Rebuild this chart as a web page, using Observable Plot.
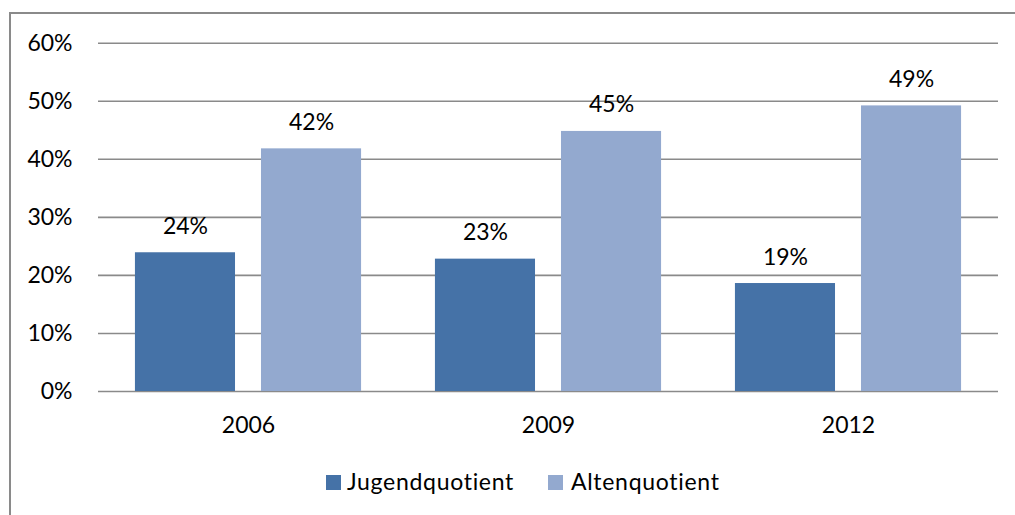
<!DOCTYPE html>
<html>
<head>
<meta charset="utf-8">
<script src="https://cdn.jsdelivr.net/npm/d3@7"></script>
<script src="https://cdn.jsdelivr.net/npm/@observablehq/plot@0.6"></script>
<style>
  html, body { margin: 0; padding: 0; background: #fff; }
  #wrap { position: relative; width: 1015px; height: 515px; overflow: hidden; font-family: Lato, "Open Sans", sans-serif; }
  #frame { position: absolute; left: 9px; top: 12px; width: 1100px; height: 600px; border-left: 2px solid #8a8a8a; border-top: 2px solid #8a8a8a; box-sizing: border-box; }
  #chart { position: absolute; left: 0; top: 0; }
  #legend { position: absolute; left: 326px; top: 467px; display: flex; gap: 34px; font-size: 23px; color: #000; letter-spacing: 0.7px; }
  .item { display: flex; align-items: center; }
  .sw { width: 15px; height: 15px; margin-right: 6px; margin-top: 2px; }
  .item + .item .sw { margin-right: 8px; }
</style>
</head>
<body>
<div id="wrap">
  <div id="frame"></div>
  <div id="chart"></div>
  <div id="legend"></div>
</div>
<script>
const years = ["2006", "2009", "2012"];
const seriesNames = ["Jugendquotient", "Altenquotient"];
const jugend = [0.239, 0.228, 0.186];
const alten = [0.418, 0.448, 0.492];
const labelsJugend = ["24%", "23%", "19%"];
const labelsAlten = ["42%", "45%", "49%"];
const yTicks = [0, 0.1, 0.2, 0.3, 0.4, 0.5, 0.6];
const colors = ["#4572a7", "#93a9cf"];

const data = [];
years.forEach((yr, i) => {
  data.push({year: yr, series: seriesNames[0], value: jugend[i], label: labelsJugend[i]});
  data.push({year: yr, series: seriesNames[1], value: alten[i], label: labelsAlten[i]});
});

const chart = Plot.plot({
  width: 1015,
  height: 440,
  marginLeft: 98.3,
  marginRight: 16.7,
  marginTop: 42.7,
  marginBottom: 49,
  style: { fontFamily: "Lato, 'Open Sans', sans-serif", fontSize: "23px", color: "#000", background: "transparent" },
  fx: { domain: years, padding: 0, label: null, axis: "bottom", tickSize: 0, tickPadding: 25 },
  x: { domain: seriesNames, paddingInner: 0.206, paddingOuter: 0.293, axis: null, round: false },
  y: { domain: [0, 0.6], ticks: yTicks, tickFormat: d => Math.round(d * 100) + "%", label: null, tickSize: 0, tickPadding: 26 },
  color: { domain: seriesNames, range: colors },
  marks: [
    Plot.gridY(yTicks, { stroke: "#8a8a8a", strokeOpacity: 1, strokeWidth: 1.6 }),
    Plot.barY(data, { fx: "year", x: "series", y: "value", fill: "series" }),
    Plot.text(data, { fx: "year", x: "series", y: "value", text: "label", lineAnchor: "bottom", dy: -19, fill: "#000", fontSize: 23 })
  ]
});
document.getElementById("chart").appendChild(chart);

const legend = document.getElementById("legend");
seriesNames.forEach((s, i) => {
  const it = document.createElement("div");
  it.className = "item";
  const sw = document.createElement("div");
  sw.className = "sw";
  sw.style.background = colors[i];
  const tx = document.createElement("span");
  tx.textContent = s;
  it.appendChild(sw);
  it.appendChild(tx);
  legend.appendChild(it);
});
</script>
</body>
</html>
